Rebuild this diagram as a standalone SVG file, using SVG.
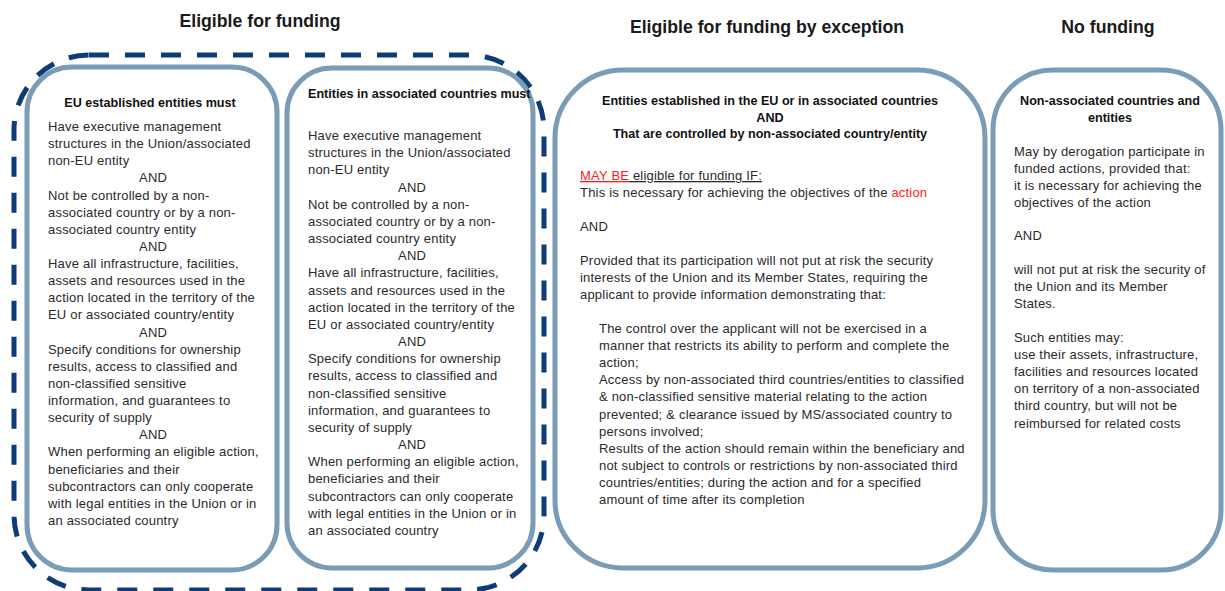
<svg xmlns="http://www.w3.org/2000/svg" width="1225" height="591" viewBox="0 0 1225 591">
<style>
.title{font-family:"Liberation Sans",Arial,sans-serif;font-weight:bold;font-size:17.7px;fill:#1a1a1a;text-anchor:middle}
.hdr{font-family:"Liberation Sans",Arial,sans-serif;font-weight:bold;font-size:12.6px;fill:#111}
.t{font-family:"Liberation Sans",Arial,sans-serif;font-size:13px;letter-spacing:0.2px;fill:#2a2a2a}
.c{text-anchor:middle}
.box{fill:#fff;stroke:#7b9cb6;stroke-width:5}
.red{fill:#ff1a1a}
</style>
<rect width="1225" height="591" fill="#fff"/>
<g id="titles">
<text class="title" x="260" y="27">Eligible for funding</text>
<text class="title" x="767" y="33">Eligible for funding by exception</text>
<text class="title" x="1108" y="33">No funding</text>
</g>
<g id="group-eligible">
<rect x="14" y="55" width="530" height="535" rx="75" ry="75" fill="none" stroke="#0d3c78" stroke-width="5" stroke-dasharray="20 16"/>
</g>
<g id="node-eu">
<rect class="box" x="27" y="67" width="250" height="503" rx="45" ry="45"/>
<text class="hdr c" x="150" y="107">EU established entities must</text>
<text class="t" x="48" y="131">
<tspan x="48" dy="0">Have executive management</tspan>
<tspan x="48" dy="17.13">structures in the Union/associated</tspan>
<tspan x="48" dy="17.13">non-EU entity</tspan>
<tspan x="155" dy="17.13" text-anchor="middle">AND</tspan>
<tspan x="48" dy="17.13">Not be controlled by a non-</tspan>
<tspan x="48" dy="17.13">associated country or by a non-</tspan>
<tspan x="48" dy="17.13">associated country entity</tspan>
<tspan x="155" dy="17.13" text-anchor="middle">AND</tspan>
<tspan x="48" dy="17.13">Have all infrastructure, facilities,</tspan>
<tspan x="48" dy="17.13">assets and resources used in the</tspan>
<tspan x="48" dy="17.13">action located in the territory of the</tspan>
<tspan x="48" dy="17.13">EU or associated country/entity</tspan>
<tspan x="155" dy="17.13" text-anchor="middle">AND</tspan>
<tspan x="48" dy="17.13">Specify conditions for ownership</tspan>
<tspan x="48" dy="17.13">results, access to classified and</tspan>
<tspan x="48" dy="17.13">non-classified sensitive</tspan>
<tspan x="48" dy="17.13">information, and guarantees to</tspan>
<tspan x="48" dy="17.13">security of supply</tspan>
<tspan x="155" dy="17.13" text-anchor="middle">AND</tspan>
<tspan x="48" dy="17.13">When performing an eligible action,</tspan>
<tspan x="48" dy="17.13">beneficiaries and their</tspan>
<tspan x="48" dy="17.13">subcontractors can only cooperate</tspan>
<tspan x="48" dy="17.13">with legal entities in the Union or in</tspan>
<tspan x="48" dy="17.13">an associated country</tspan>
</text>
</g>
<g id="node-associated">
<rect class="box" x="287" y="68" width="246" height="500" rx="45" ry="45"/>
<text class="hdr" x="308" y="98">Entities in associated countries must</text>
<text class="t" x="308" y="140">
<tspan x="308" dy="0">Have executive management</tspan>
<tspan x="308" dy="17.17">structures in the Union/associated</tspan>
<tspan x="308" dy="17.17">non-EU entity</tspan>
<tspan x="414" dy="17.17" text-anchor="middle">AND</tspan>
<tspan x="308" dy="17.17">Not be controlled by a non-</tspan>
<tspan x="308" dy="17.17">associated country or by a non-</tspan>
<tspan x="308" dy="17.17">associated country entity</tspan>
<tspan x="414" dy="17.17" text-anchor="middle">AND</tspan>
<tspan x="308" dy="17.17">Have all infrastructure, facilities,</tspan>
<tspan x="308" dy="17.17">assets and resources used in the</tspan>
<tspan x="308" dy="17.17">action located in the territory of the</tspan>
<tspan x="308" dy="17.17">EU or associated country/entity</tspan>
<tspan x="414" dy="17.17" text-anchor="middle">AND</tspan>
<tspan x="308" dy="17.17">Specify conditions for ownership</tspan>
<tspan x="308" dy="17.17">results, access to classified and</tspan>
<tspan x="308" dy="17.17">non-classified sensitive</tspan>
<tspan x="308" dy="17.17">information, and guarantees to</tspan>
<tspan x="308" dy="17.17">security of supply</tspan>
<tspan x="414" dy="17.17" text-anchor="middle">AND</tspan>
<tspan x="308" dy="17.17">When performing an eligible action,</tspan>
<tspan x="308" dy="17.17">beneficiaries and their</tspan>
<tspan x="308" dy="17.17">subcontractors can only cooperate</tspan>
<tspan x="308" dy="17.17">with legal entities in the Union or in</tspan>
<tspan x="308" dy="17.17">an associated country</tspan>
</text>
</g>
<g id="node-exception">
<rect class="box" x="555" y="70" width="430" height="498" rx="68" ry="68"/>
<text class="hdr c" x="770" y="105">Entities established in the EU or in associated countries</text>
<text class="hdr c" x="770" y="121.5">AND</text>
<text class="hdr c" x="770" y="138">That are controlled by non-associated country/entity</text>
<text class="t" x="580" y="180"><tspan class="red" text-decoration="underline">MAY BE</tspan><tspan text-decoration="underline"> eligible for funding IF:</tspan></text>
<text class="t" x="580" y="197">This is necessary for achieving the objectives of the <tspan class="red">action</tspan></text>
<text class="t" x="580" y="231">AND</text>
<text class="t" x="580" y="265">
<tspan x="580" dy="0">Provided that its participation will not put at risk the security</tspan>
<tspan x="580" dy="17.1">interests of the Union and its Member States, requiring the</tspan>
<tspan x="580" dy="17.1">applicant to provide information demonstrating that:</tspan>
</text>
<text class="t" x="599" y="333">
<tspan x="599" dy="0">The control over the applicant will not be exercised in a</tspan>
<tspan x="599" dy="17.1">manner that restricts its ability to perform and complete the</tspan>
<tspan x="599" dy="17.1">action;</tspan>
<tspan x="599" dy="17.1">Access by non-associated third countries/entities to classified</tspan>
<tspan x="599" dy="17.1">&amp; non-classified sensitive material relating to the action</tspan>
<tspan x="599" dy="17.1">prevented; &amp; clearance issued by MS/associated country to</tspan>
<tspan x="599" dy="17.1">persons involved;</tspan>
<tspan x="599" dy="17.1">Results of the action should remain within the beneficiary and</tspan>
<tspan x="599" dy="17.1">not subject to controls or restrictions by non-associated third</tspan>
<tspan x="599" dy="17.1">countries/entities; during the action and for a specified</tspan>
<tspan x="599" dy="17.1">amount of time after its completion</tspan>
</text>
</g>
<g id="node-nonassociated">
<rect class="box" x="993" y="70" width="228" height="500" rx="60" ry="60"/>
<text class="hdr c" x="1110" y="105">Non-associated countries and</text>
<text class="hdr c" x="1110" y="121.5">entities</text>
<text class="t" x="1014" y="156">
<tspan x="1014" dy="0">May by derogation participate in</tspan>
<tspan x="1014" dy="17.1">funded actions, provided that:</tspan>
<tspan x="1014" dy="17.1">it is necessary for achieving the</tspan>
<tspan x="1014" dy="17.1">objectives of the action</tspan>
</text>
<text class="t" x="1014" y="240">AND</text>
<text class="t" x="1014" y="274">
<tspan x="1014" dy="0">will not put at risk the security of</tspan>
<tspan x="1014" dy="17.1">the Union and its Member</tspan>
<tspan x="1014" dy="17.1">States.</tspan>
</text>
<text class="t" x="1014" y="342">
<tspan x="1014" dy="0">Such entities may:</tspan>
<tspan x="1014" dy="17.1">use their assets, infrastructure,</tspan>
<tspan x="1014" dy="17.1">facilities and resources located</tspan>
<tspan x="1014" dy="17.1">on territory of a non-associated</tspan>
<tspan x="1014" dy="17.1">third country, but will not be</tspan>
<tspan x="1014" dy="17.1">reimbursed for related costs</tspan>
</text>
</g>
<g id="connectors"></g>
</svg>
